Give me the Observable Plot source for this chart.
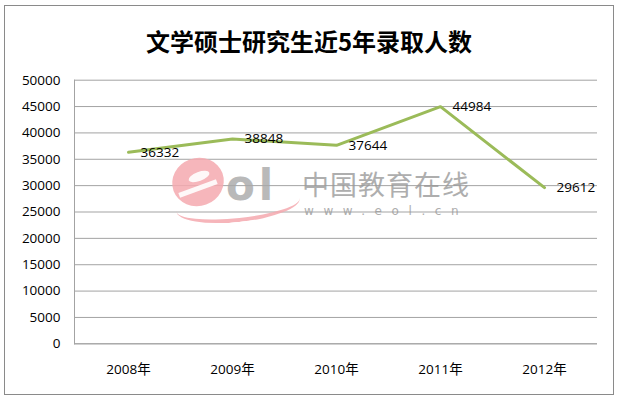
<!DOCTYPE html>
<html>
<head>
<meta charset="utf-8">
<script src="https://cdn.jsdelivr.net/npm/d3@7"></script>
<script src="https://cdn.jsdelivr.net/npm/@observablehq/plot@0.6"></script>
<style>
  html, body { margin: 0; padding: 0; background: #fff; }
  #wrap { position: relative; width: 618px; height: 397px; overflow: hidden; font-family: "Open Sans", "Noto Sans CJK SC", sans-serif; }
  #title { height: 65px; box-sizing: border-box; padding-top: 27px; line-height: 28px; text-align: center;
           font-family: "Noto Sans CJK SC", sans-serif; font-weight: bold; font-size: 24px; color: #000; }
  #border { position: absolute; left: 4px; top: 5px; width: 608px; height: 388px; border: 1px solid #8a8a8a; pointer-events: none; }
  #wm { position: absolute; left: 0; top: 0; width: 618px; height: 397px; pointer-events: none; }
  .wm-cn { position: absolute; left: 302px; top: 170px; font-family: "Noto Sans CJK SC", sans-serif; font-size: 27px; line-height: 27px; color: #9a9a9a; opacity: 0.8; letter-spacing: 1px; }
  .wm-url { position: absolute; left: 304px; top: 205px; font-family: "DejaVu Sans", sans-serif; font-size: 12px; line-height: 12px; color: #9a9a9a; opacity: 0.8; letter-spacing: 9.6px; }
  .wm-e { position: absolute; left: 172px; top: 158px; width: 52px; height: 48px; border-radius: 50%; background: #f5a9af; opacity: 0.85; transform: rotate(-20deg); }
  .wm-e-hole { position: absolute; left: 188px; top: 172px; width: 22px; height: 9px; border-radius: 50%; background: #fff; opacity: 0.9; transform: rotate(-20deg); }
  .wm-e-cut { position: absolute; left: 178px; top: 186px; width: 40px; height: 5px; background: #fff; opacity: 0.9; transform: rotate(-20deg); }
  .wm-swoosh { position: absolute; left: 176px; top: 188px; width: 124px; height: 30px; border-radius: 50%; border-bottom: 4px solid #f5a9af; opacity: 0.85; transform: rotate(-6deg); }
  .wm-ol { position: absolute; left: 226px; top: 164px; font-family: "DejaVu Sans", sans-serif; font-weight: bold; font-size: 42px; line-height: 44px; color: #a8a8a8; opacity: 0.8; letter-spacing: 4px; }
  svg { display: block; }
</style>
</head>
<body>
<div id="wrap">
  <div id="title">文学硕士研究生近5年录取人数</div>
  <div id="chart"></div>
  <div id="wm">
    <div class="wm-e"></div>
    <div class="wm-e-hole"></div>
    <div class="wm-e-cut"></div>
    <div class="wm-swoosh"></div>
    <div class="wm-ol">ol</div>
    <div class="wm-cn">中国教育在线</div>
    <div class="wm-url">www.eol.cn</div>
  </div>
  <div id="border"></div>
</div>
<script>
const years = ["2008年", "2009年", "2010年", "2011年", "2012年"];
const values = [36332, 38848, 37644, 44984, 29612];
const yTicks = [0, 5000, 10000, 15000, 20000, 25000, 30000, 35000, 40000, 45000, 50000];

const data = years.map((year, i) => ({year, value: values[i]}));

const chart = Plot.plot({
  width: 618,
  height: 332,
  marginLeft: 74,
  marginRight: 21,
  marginTop: 14.7,
  marginBottom: 53.7,
  style: {fontFamily: '"Open Sans", "Noto Sans CJK SC", sans-serif', fontSize: "13.5px", color: "#000", background: "transparent"},
  x: {type: "point", domain: years, padding: 0.5, label: null},
  y: {domain: [0, 50000], label: null},
  marks: [
    Plot.gridY(yTicks, {stroke: "#a3a3a3", strokeOpacity: 1, strokeWidth: 1}),
    Plot.frame({anchor: "left", stroke: "#a3a3a3", strokeWidth: 1}),
    Plot.ruleY([0], {stroke: "#a3a3a3", strokeWidth: 1}),
    Plot.axisY(yTicks, {tickSize: 0, tickPadding: 14, tickFormat: d => String(d), label: null, fill: "#000"}),
    Plot.axisX({tickSize: 0, tickPadding: 21, label: null, fill: "#000"}),
    Plot.line(data, {x: "year", y: "value", stroke: "#9bbb59", strokeWidth: 3}),
    Plot.text(data, {x: "year", y: "value", text: d => String(d.value), dx: 12, textAnchor: "start", fill: "#000", fontSize: 13.5})
  ]
});
document.getElementById("chart").appendChild(chart);
</script>
</body>
</html>
